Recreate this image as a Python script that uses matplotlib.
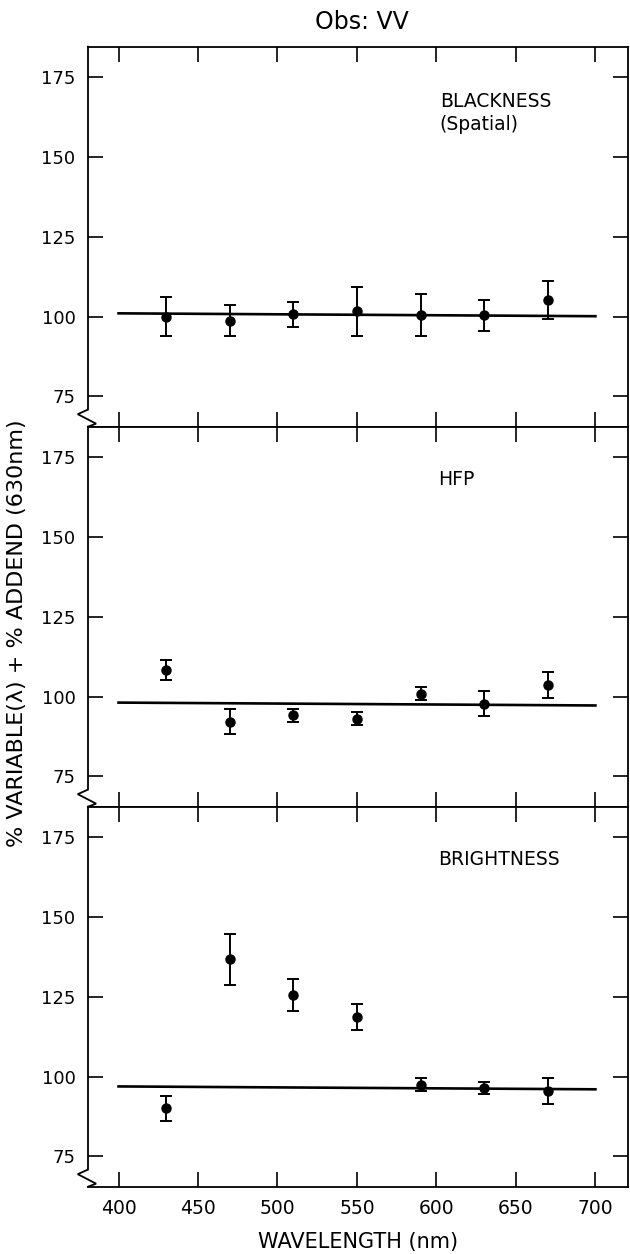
import matplotlib
matplotlib.use("Agg")
import matplotlib.pyplot as plt
import numpy as np

wavelengths = [430, 470, 510, 550, 590, 630, 670]

panel_names = ["BLACKNESS\n(Spatial)", "HFP", "BRIGHTNESS"]

blackness_vals = [100.0, 98.7, 100.7, 101.6, 100.4, 100.4, 105.2]
blackness_err = [6.0, 4.9, 4.0, 7.8, 6.5, 4.9, 6.0]
blackness_line = [101.0, 100.1]

hfp_vals = [108.2, 92.1, 94.1, 93.1, 100.9, 97.8, 103.6]
hfp_err = [3.1, 3.9, 2.0, 2.0, 2.1, 4.0, 4.0]
hfp_line = [98.1, 97.2]

bright_vals = [90.0, 136.7, 125.5, 118.7, 97.4, 96.4, 95.5]
bright_err = [4.0, 7.9, 5.0, 4.0, 2.0, 2.0, 4.0]
bright_line = [96.9, 96.0]

line_x = [400, 700]
x_ticks = [400, 450, 500, 550, 600, 650, 700]
y_ticks = [75, 100, 125, 150, 175]

title = "Obs: VV"
xlabel = "WAVELENGTH (nm)"
ylabel = "% VARIABLE(λ) + % ADDEND (630nm)"

panels = [
    (panel_names[0], blackness_vals, blackness_err, blackness_line),
    (panel_names[1], hfp_vals, hfp_err, hfp_line),
    (panel_names[2], bright_vals, bright_err, bright_line),
]

plt.rcParams['font.family'] = ['DejaVu Sans']

W, H = 630, 1254
fig = plt.figure(figsize=(W / 100, H / 100), dpi=100)
left, right = 88 / W, 628 / W
top, bottom = 1 - 46.7 / H, 1 - 1186.7 / H
gs = fig.add_gridspec(3, 1, left=left, right=right, top=top, bottom=bottom, hspace=0)

for i, (name, vals, errs, line) in enumerate(panels):
    ax = fig.add_subplot(gs[i, 0])
    ax.set_xlim(380.8, 720.5)
    ax.set_ylim(65.5, 184.5)
    ax.plot(line_x, line, color='black', lw=1.9, zorder=2)
    ax.errorbar(wavelengths, vals, yerr=errs, fmt='o', color='black',
                ms=6.5, elinewidth=1.4, capsize=4.5, capthick=1.4, zorder=3)
    ax.set_xticks(x_ticks)
    ax.set_yticks(y_ticks)
    ax.tick_params(axis='x', which='both', direction='in', top=True, bottom=True,
                   length=11, width=1.2, labelsize=13.5, pad=9)
    ax.tick_params(axis='y', which='both', direction='in', left=True, right=True,
                   length=11, width=1.2, labelsize=13, pad=9)
    if i < 2:
        ax.tick_params(axis='x', labelbottom=False)
    for s in ['top', 'bottom', 'right']:
        ax.spines[s].set_linewidth(1.3)
    ax.spines['left'].set_visible(False)
    # left spine with break mark near bottom
    bx = [0, 0, -0.019, 0.015, 0.0]
    by = [1, 0.045, 0.033, 0.008, 0.0]
    ax.plot(bx, by, transform=ax.transAxes, color='black', lw=1.3,
            clip_on=False, solid_joinstyle='miter')
    if '\n' in name:
        first, second = name.split('\n')
        ax.text(602, 167.3, first, ha='left', va='center', fontsize=13.5)
        ax.text(602, 160.0, second, ha='left', va='center', fontsize=13.5)
    else:
        ax.text(601, 168.0, name, ha='left', va='center', fontsize=13.5)
    if i == 2:
        ax.set_xlabel(xlabel, fontsize=15, labelpad=10)

fig.text(361.6 / W, 1 - 21.7 / H, title, ha='center', va='center', fontsize=17)
fig.text(17 / W, 1 - 633 / H, ylabel, ha='center', va='center', rotation=90, fontsize=16)

fig.savefig("out.png", dpi=100)
